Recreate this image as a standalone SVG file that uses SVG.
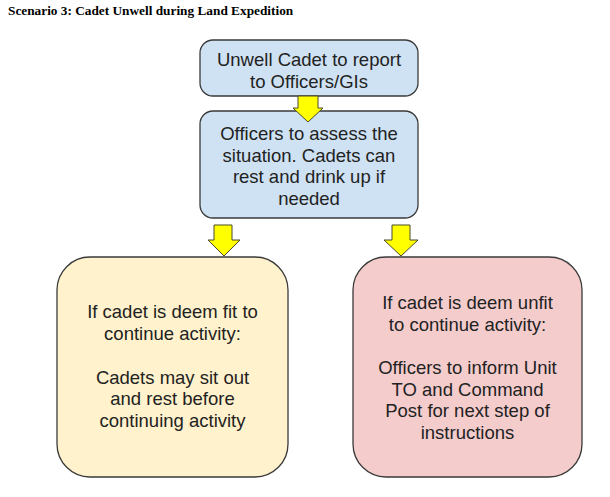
<svg xmlns="http://www.w3.org/2000/svg" width="610" height="497" viewBox="0 0 610 497">
<style>
.box{stroke:#3a3a3a;stroke-width:1.3}
.blue{fill:#cfe2f3}
.yel{fill:#fff2cc}
.red{fill:#f4cccc}
.arr{fill:#ffff00;stroke:#4a4a2a;stroke-width:1;stroke-linejoin:miter}
.t{font-family:"Liberation Sans",Arial,sans-serif;font-size:18.5px;fill:#222;text-anchor:middle}
.title{font-family:"Liberation Serif","Times New Roman",serif;font-size:13.3px;font-weight:bold;fill:#000}
</style>
<rect width="610" height="497" fill="#fff"/>
<text class="title" x="8" y="15">Scenario 3: Cadet Unwell during Land Expedition</text>
<g id="n1">
<rect class="box blue" x="200" y="40" width="218" height="56" rx="13"/>
<text class="t" x="309" y="66">Unwell Cadet to report</text>
<text class="t" x="309" y="88">to Officers/GIs</text>
</g>
<g id="n2">
<rect class="box blue" x="200" y="111" width="218" height="107" rx="13"/>
<text class="t" x="309" y="140">Officers to assess the</text>
<text class="t" x="309" y="162">situation. Cadets can</text>
<text class="t" x="309" y="183">rest and drink up if</text>
<text class="t" x="309" y="205">needed</text>
</g>
<g id="n3">
<rect class="box yel" x="57" y="257" width="231" height="220" rx="33"/>
<text class="t" x="172.5" y="318">If cadet is deem fit to</text>
<text class="t" x="172.5" y="340">continue activity:</text>
<text class="t" x="172.5" y="384">Cadets may sit out</text>
<text class="t" x="172.5" y="405">and rest before</text>
<text class="t" x="172.5" y="427">continuing activity</text>
</g>
<g id="n4">
<rect class="box red" x="353" y="257" width="229" height="220" rx="33"/>
<text class="t" x="467.5" y="309">If cadet is deem unfit</text>
<text class="t" x="467.5" y="331">to continue activity:</text>
<text class="t" x="467.5" y="374">Officers to inform Unit</text>
<text class="t" x="467.5" y="396">TO and Command</text>
<text class="t" x="467.5" y="417">Post for next step of</text>
<text class="t" x="467.5" y="439">instructions</text>
</g>
<g id="connectors">
<polygon class="arr" points="298,96 318,96 318,108 323,108 308,122 293,108 298,108"/>
<polygon class="arr" points="214,225 232,225 232,240 240,240 224,256 208,240 214,240"/>
<polygon class="arr" points="392,225 410,225 410,240 418,240 401,256 384,240 392,240"/>
</g>
</svg>
